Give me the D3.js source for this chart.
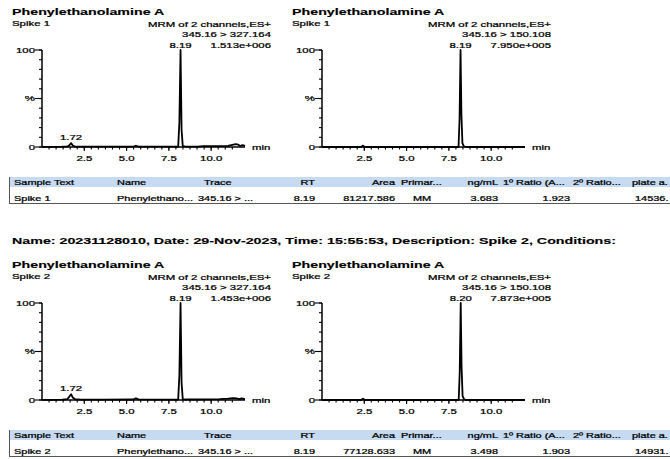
<!DOCTYPE html>
<html>
<head>
<meta charset="utf-8">
<script src="https://cdn.jsdelivr.net/npm/d3@7"></script>
<style>
body { margin: 0; background: #fff; }
svg { display: block; font-family: "Liberation Sans", Arial, sans-serif; }
</style>
</head>
<body>
<div id="chart"></div>
<script>
//// Data

const compound = "Phenylethanolamine A"
const spikes = ["Spike 1", "Spike 2"]
const channels = ["345.16 > 327.164", "345.16 > 150.108"]
const peak_rt = [["8.19", "8.19"], ["8.19", "8.20"]]
const peak_max = [["1.513e+006", "7.950e+005"], ["1.453e+006", "7.873e+005"]]
const minor_peak = [[1.72, "1.72"], [1.72, "1.72"]]

// [time (min), intensity (%)]
const trace_s1_327 = [
    [0.0, 0.2], [0.6, 0.2], [1.2, 0.3], [1.5, 0.5], [1.62, 1.8], [1.72, 4.0], [1.82, 1.5],
    [1.95, 0.4], [2.6, 0.3], [3.8, 0.3], [5.4, 0.4], [5.55, 1.3], [5.7, 0.4], [7.0, 0.3],
    [8.05, 0.4], [8.12, 25], [8.19, 100], [8.25, 18], [8.32, 1.0], [8.5, 0.3], [9.2, 0.4],
    [9.5, 0.9], [10.5, 1.0], [11.0, 1.2], [11.25, 2.2], [11.45, 3.0], [11.6, 2.4],
    [11.72, 1.0], [11.85, 2.0], [12.0, 1.1]
]
const trace_s1_150 = [
    [0.0, 0.0], [2.3, 0.0], [2.42, 1.4], [2.52, 0.2], [2.65, 0.0], [8.07, 0.0], [8.13, 28],
    [8.19, 100], [8.24, 35], [8.3, 4], [8.38, 0.8], [8.5, 0.0], [12.0, 0.0]
]
const trace_s2_327 = [
    [0.0, 0.2], [0.6, 0.2], [1.2, 0.4], [1.5, 1.0], [1.62, 3.5], [1.72, 6.0], [1.82, 2.5],
    [1.95, 0.8], [2.3, 0.4], [3.8, 0.3], [5.4, 0.5], [5.55, 1.8], [5.7, 0.6], [7.0, 0.4],
    [8.05, 0.5], [8.12, 25], [8.19, 100], [8.25, 18], [8.32, 1.0], [8.5, 0.5], [9.5, 0.6],
    [10.5, 0.8], [11.0, 1.4], [11.3, 2.0], [11.5, 1.6], [11.65, 1.0], [11.8, 1.6], [12.0, 0.9]
]
const trace_s2_150 = [
    [0.0, 0.0], [2.3, 0.0], [2.42, 1.4], [2.52, 0.2], [2.65, 0.0], [8.08, 0.0], [8.14, 28],
    [8.20, 100], [8.25, 35], [8.31, 4], [8.4, 0.8], [8.5, 0.0], [12.0, 0.0]
]
const traces = [[trace_s1_327, trace_s1_150], [trace_s2_327, trace_s2_150]]

const x_tick_labels = [2.5, 5.0, 7.5, 10.0]
const y_tick_labels = [[0, "0"], [50, "%"], [100, "100"]]

const run_info = "Name: 20231128010, Date: 29-Nov-2023, Time: 15:55:53, Description: Spike 2, Conditions:"

const table_header = ["Sample Text", "Name", "Trace", "RT", "Area", "Primar...", "ng/mL",
    "1\u00ba Ratio (A...", "2\u00ba Ratio...", "plate a."]
const table_rows = [
    ["Spike 1", "Phenylethano...", "345.16 > ...", "8.19", "81217.586", "MM", "3.683", "1.923", "", "14536."],
    ["Spike 2", "Phenylethano...", "345.16 > ...", "8.19", "77128.633", "MM", "3.498", "1.903", "", "14931."]
]

//// Layout

const W = 670, H = 459
const SX = 1.5           // the report text is stretched sideways
const SMALL = 7.6
const TABLE = 7.3
const BOLD = 9.5
const BLOCK_DY = 253     // vertical step between the two sample blocks
const PANEL_DX = 280

// column anchors of the result table
const head_x = [14, 117, 204, 315, 395, 401, 498, 503, 573, 632]
const head_anchor = ["start", "start", "start", "end", "end", "start", "end", "start", "start", "start"]
const row_x = [14, 117, 198, 315, 395, 422, 498, 570, 573, 635]
const row_anchor = ["start", "start", "start", "end", "end", "middle", "end", "end", "start", "start"]

const svg = d3.select("#chart")
    .append("svg")
        .attr("width", W)
        .attr("height", H)

function label(g, x, y, s, anchor, size, weight) {
    return g.append("text")
        .attr("transform", "translate(" + x + "," + y + ") scale(" + SX + ",1)")
        .attr("text-anchor", anchor || "start")
        .style("font-size", (size || SMALL) + "px")
        .style("font-weight", weight || "normal")
        .style("fill", "#000")
        .style("stroke", "#000")
        .style("stroke-width", weight === "bold" ? 0.15 : 0.25)
        .text(s)
}

var x = d3.scaleLinear().domain([0, 12]).range([42, 245])
var y = d3.scaleLinear().domain([0, 100]).range([147, 50])

const line = d3.line()
    .x(d => x(d[0]))
    .y(d => y(d[1]))

function draw_panel(g, si, ci) {
    label(g, 12, 15, compound, "start", BOLD, "bold")
    label(g, 12, 26, spikes[si])
    label(g, 271, 27, "MRM of 2 channels,ES+", "end")
    label(g, 271, 37, channels[ci], "end")
    label(g, 271, 48, peak_max[si][ci], "end")
    label(g, x(+peak_rt[si][ci]), 48, peak_rt[si][ci], "middle")

    // y axis: minor ticks every 10 %, labelled majors
    const yax = g.append("g")
    yax.append("line")
        .attr("x1", x.range()[0]).attr("x2", x.range()[0])
        .attr("y1", y(0)).attr("y2", y(100))
        .attr("stroke", "#000").attr("stroke-width", 1.5)
    yax.selectAll(".minor")
        .data(d3.range(0, 101, 10))
        .enter()
        .append("line")
            .attr("x1", x.range()[0] - 3).attr("x2", x.range()[0])
            .attr("y1", d => y(d)).attr("y2", d => y(d))
            .attr("stroke", "#000").attr("stroke-width", 1.1)
    y_tick_labels.forEach(t => {
        yax.append("line")
            .attr("x1", x.range()[0] - 7).attr("x2", x.range()[0])
            .attr("y1", y(t[0])).attr("y2", y(t[0]))
            .attr("stroke", "#000").attr("stroke-width", 1.1)
        label(yax, x.range()[0] - 7, y(t[0]) + 2.7, t[1], "end")
    })

    // x axis: minor ticks every 2.5/6 min, labelled majors
    const xax = g.append("g")
    xax.append("line")
        .attr("x1", x.range()[0]).attr("x2", x.range()[1])
        .attr("y1", y(0)).attr("y2", y(0))
        .attr("stroke", "#000").attr("stroke-width", 1.5)
    xax.selectAll(".minor")
        .data(d3.range(1, 28).map(i => i * 2.5 / 6).filter(v => v < 12))
        .enter()
        .append("line")
            .attr("x1", d => x(d)).attr("x2", d => x(d))
            .attr("y1", y(0)).attr("y2", y(0) + 2.5)
            .attr("stroke", "#000").attr("stroke-width", 1.1)
    x_tick_labels.forEach(t => {
        xax.append("line")
            .attr("x1", x(t)).attr("x2", x(t))
            .attr("y1", y(0)).attr("y2", y(0) + 4)
            .attr("stroke", "#000").attr("stroke-width", 1.1)
        label(xax, x(t), y(0) + 14, t.toFixed(1), "middle")
    })
    label(xax, 252, y(0) + 3, "min", "start")

    // trace
    g.append("path")
        .attr("d", line(traces[si][ci]))
        .attr("fill", "none")
        .attr("stroke", "#000")
        .attr("stroke-width", 1.8)
        .attr("stroke-linejoin", "round")

    if (ci === 0) {
        const mp = minor_peak[si]
        const top = traces[si][ci].find(d => d[0] === mp[0])
        label(g, x(mp[0]), y(top[1]) - 3, mp[1], "middle")
    }
}

function draw_table(g, row) {
    g.append("rect")
        .attr("x", 9).attr("y", 177)
        .attr("width", W - 9).attr("height", 10)
        .attr("fill", "#c6daf1")
    g.append("line")
        .attr("x1", 9).attr("x2", W).attr("y1", 203.5).attr("y2", 203.5)
        .attr("stroke", "#555").attr("stroke-width", 1)
    g.append("line")
        .attr("x1", 9.5).attr("x2", 9.5).attr("y1", 177).attr("y2", 204)
        .attr("stroke", "#555").attr("stroke-width", 1)
    table_header.forEach((h, i) => label(g, head_x[i], 185, h, head_anchor[i], TABLE))
    row.forEach((v, i) => label(g, row_x[i], 200.5, v, row_anchor[i], TABLE))
}

spikes.forEach((s, si) => {
    const block = svg.append("g")
        .attr("transform", "translate(0," + si * BLOCK_DY + ")")
    channels.forEach((c, ci) => {
        const panel = block.append("g")
            .attr("transform", "translate(" + ci * PANEL_DX + ",0)")
        draw_panel(panel, si, ci)
    })
    draw_table(block, table_rows[si])
})

label(svg, 12, 244, run_info, "start", BOLD, "bold")
</script>
</body>
</html>
